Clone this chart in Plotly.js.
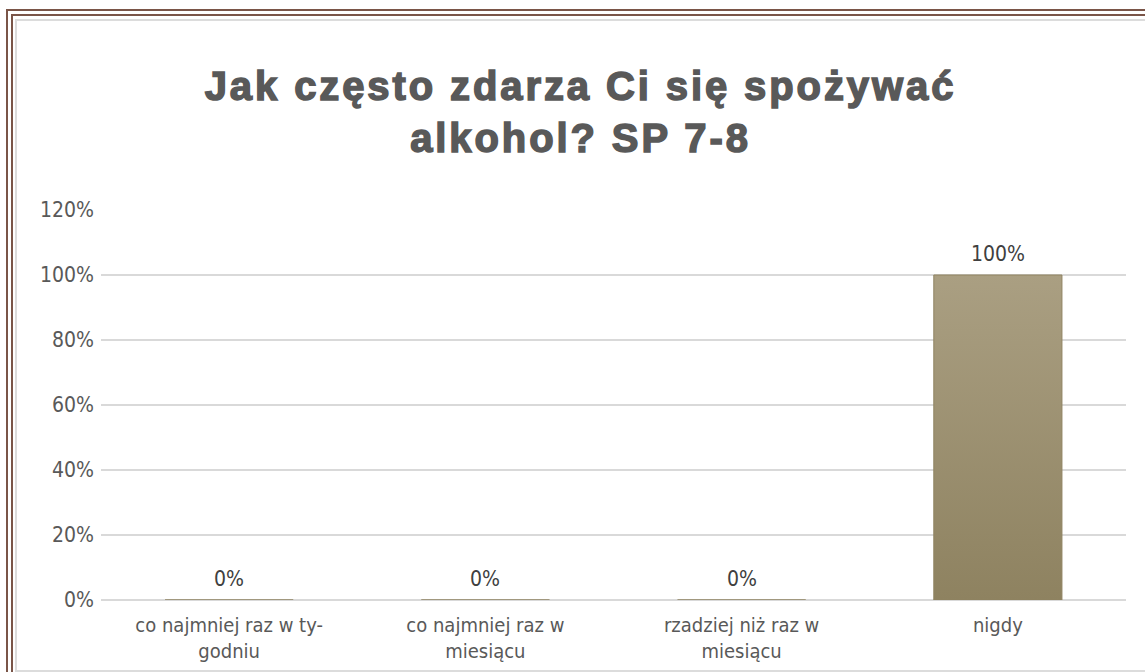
<!DOCTYPE html>
<html>
<head>
<meta charset="utf-8">
<script src="https://cdn.plot.ly/plotly-3.0.1.min.js"></script>
<style>
  html, body { margin: 0; padding: 0; background: #ffffff; overflow: hidden; }
  #wrap { position: relative; width: 1145px; height: 672px; }
  #chart { position: absolute; left: 0; top: 0; width: 1145px; height: 672px; }
  #frameOuter { position: absolute; left: 6px; top: 9px; width: 1300px; height: 1000px;
    border-top: 7px double #7a5548; border-left: 7px double #7a5548; pointer-events: none; box-sizing: border-box; }
  #frameInner { position: absolute; left: 15px; top: 19px; width: 1300px; height: 653px;
    border-top: 2px solid #dcdcdc; border-left: 2px solid #dcdcdc; border-bottom: 2px solid #dcdcdc; pointer-events: none; box-sizing: border-box; }
  .gtitle { letter-spacing: 2.9px; stroke: #595959; stroke-width: 1.5px; paint-order: stroke; }
</style>
</head>
<body>
<div id="wrap">
  <div id="chart"></div>
  <div id="frameOuter"></div>
  <div id="frameInner"></div>
</div>
<script>
const categories = ["co najmniej raz w ty-<br>godniu", "co najmniej raz w<br>miesiącu", "rzadziej niż raz w<br>miesiącu", "nigdy"];
const values = [0, 0, 0, 1.0];
const valueLabels = ["0%", "0%", "0%", "100%"];
const yTickVals = [0, 0.2, 0.4, 0.6, 0.8, 1.0, 1.2];
const yTickText = ["0%", "20%", "40%", "60%", "80%", "100%", "120%"];
const chartTitle = "Jak często zdarza Ci się spożywać<br>alkohol? SP 7-8";

const labelFont = { family: "DejaVu Sans Condensed, DejaVu Sans", size: 21, color: "#404040" };
const yAxisFont = { family: "DejaVu Sans Condensed, DejaVu Sans", size: 21, color: "#595959" };
const xAxisFont = { family: "DejaVu Sans Condensed, DejaVu Sans", size: 20, color: "#595959" };

const trace = {
  type: "bar",
  x: categories,
  y: values,
  marker: { color: "#9d9272", line: { color: "#8f8361", width: 1 } },
  width: 0.5,
  hoverinfo: "skip"
};

const annotations = categories.map((c, i) => ({
  x: c, y: values[i], xref: "x", yref: "y",
  text: valueLabels[i], showarrow: false,
  yanchor: "bottom", yshift: 7,
  font: labelFont
}));

const layout = {
  width: 1145,
  height: 672,
  margin: { l: 101, r: 19, t: 210, b: 72 },
  paper_bgcolor: "rgba(0,0,0,0)",
  plot_bgcolor: "rgba(0,0,0,0)",
  showlegend: false,
  annotations: annotations,
  title: {
    text: chartTitle,
    font: { family: "Liberation Sans", size: 40, color: "#595959", weight: "bold" },
    x: 0.507, xanchor: "center",
    y: 0.975, yref: "container", yanchor: "top",
    pad: { t: 83 }
  },
  xaxis: {
    type: "category",
    showgrid: false,
    zeroline: false,
    showline: false,
    ticks: "",
    ticklabelstandoff: 11,
    tickfont: xAxisFont
  },
  yaxis: {
    range: [0, 1.2],
    tickvals: yTickVals,
    ticktext: yTickText,
    showgrid: true,
    gridcolor: "#d9d9d9",
    gridwidth: 2,
    zeroline: true,
    zerolinecolor: "#d9d9d9",
    zerolinewidth: 2,
    showline: false,
    ticks: "",
    ticklabelstandoff: 6,
    tickfont: yAxisFont
  },
  bargap: 0.5
};

Plotly.newPlot("chart", [trace], layout, { displayModeBar: false, staticPlot: true }).then(gd => {
  const svg = gd.querySelector("svg.main-svg");
  const NS = "http://www.w3.org/2000/svg";
  let defs = svg.querySelector("defs");
  if (!defs) { defs = document.createElementNS(NS, "defs"); svg.insertBefore(defs, svg.firstChild); }
  const grad = document.createElementNS(NS, "linearGradient");
  grad.setAttribute("id", "barGrad");
  grad.setAttribute("x1", "0"); grad.setAttribute("y1", "0");
  grad.setAttribute("x2", "0"); grad.setAttribute("y2", "1");
  [["0", "#aa9f82"], ["1", "#8e8260"]].forEach(([o, c]) => {
    const s = document.createElementNS(NS, "stop");
    s.setAttribute("offset", o); s.setAttribute("stop-color", c);
    grad.appendChild(s);
  });
  defs.appendChild(grad);
  gd.querySelectorAll(".bars .point path").forEach(p => { p.style.fill = "url(#barGrad)"; });
});
</script>
</body>
</html>
